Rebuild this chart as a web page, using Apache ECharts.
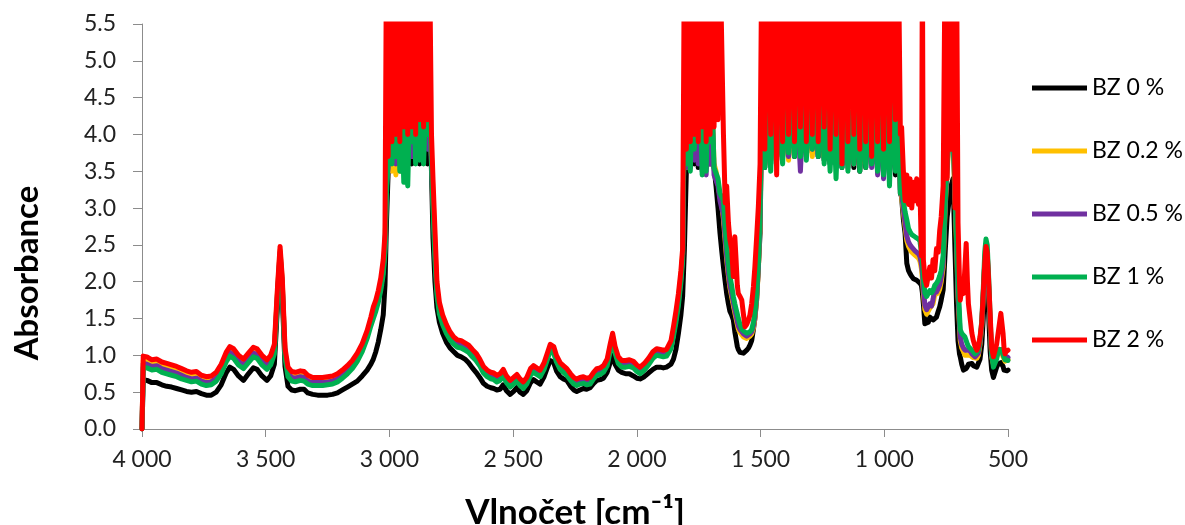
<!DOCTYPE html>
<html>
<head>
<meta charset="utf-8">
<script src="https://cdn.jsdelivr.net/npm/echarts@6/dist/echarts.min.js"></script>
<style>
html,body{margin:0;padding:0;background:#fff;}
#chart{width:1185px;height:525px;}
</style>
</head>
<body>
<div id="chart"></div>
<script>
// Wavenumbers (cm^-1), shared by all series
const wavenumbers = [
  // A
  4000,3995,3980,3960,3940,3920,3900,3880,3860,3840,
  3820,3800,3780,3760,3740,3720,3700,3680,3660,3645,
  3630,3610,3590,3570,3550,3535,3515,3495,3480,3465,
  3452,3442,3433,3422,3410,3395,3380,3360,3345,3330,
  3310,3290,3270,3250,3230,3210,3190,3170,3150,3130,
  3110,3090,3075,3065,3055,3045,3035,3025,3018,
  // B
  3012,3005,2998,2990,2982,2974,2966,2958,2950,2942,
  2934,2926,2918,2910,2902,2894,2886,2878,2870,2862,
  2854,2846,2838,2830,
  // C
  2824,2816,2808,2798,2785,2770,2755,2740,2725,2710,
  2695,2680,2665,2650,2635,2620,2605,2590,2578,2566,
  2553,2540,2527,2512,2498,2485,2472,2459,2445,2430,
  2418,2405,2391,2375,2360,2350,2344,2336,2325,2310,
  2297,2283,2268,2255,2243,2230,2216,2203,2189,2175,
  2162,2148,2135,2120,2108,2098,2088,2075,2061,2045,
  2030,2014,2000,1987,1970,1953,1935,1920,1905,1893,
  1880,1872,1862,1852,1842,1832,1822,1815,
  // D
  1808,1800,1792,1784,1776,1768,1760,1752,1744,1736,
  1728,1720,1712,1704,1696,1688,1680,1672,1664,1657,
  // E
  1650,1643,1637,1630,1624,1617,1610,1604,1599,1594,
  1590,1583,1576,1569,1563,1556,1549,1543,1536,1529,
  1523,1516,1509,1502,
  // F
  1495,1483,1471,1459,1447,1435,1423,1411,1399,1387,
  1375,1363,1351,1339,1327,1315,1303,1291,1279,1267,
  1255,1243,1231,1219,1207,1195,1183,1171,1159,1147,
  1135,1123,1111,1099,1087,1075,1063,1051,1039,1027,
  1015,1003,991,979,967,955,943,935,
  // G
  930,923,916,909,902,896,889,882,876,869,
  862,856,850,846,842,836,829,822,816,809,
  803,796,789,782,776,770,762,754,746,738,
  730,722,714,708,702,696,693,687,680,674,
  669,664,660,653,646,640,633,626,620,613,
  606,600,594,589,584,578,572,566,559,553,
  546,540,534,529,525,520,516,512,508,504,
  500
];

// BZ 0 %
const bz0 = [
  0,0.67,0.66,0.63,0.63,0.60,0.58,0.57,0.55,0.53,
  0.51,0.50,0.51,0.48,0.46,0.46,0.50,0.60,0.76,0.84,
  0.81,0.72,0.66,0.75,0.83,0.81,0.72,0.66,0.72,0.88,
  1.70,2.25,1.80,0.85,0.58,0.53,0.52,0.54,0.54,0.49,
  0.47,0.46,0.46,0.46,0.47,0.49,0.53,0.57,0.61,0.65,
  0.72,0.80,0.88,0.95,1.05,1.18,1.35,1.55,1.95,
  2.8,3.5,4.4,3.6,4.3,3.55,4.5,3.6,4.4,3.6,
  4.5,3.65,4.3,3.6,4.4,3.7,4.5,3.6,4.4,3.65,
  4.3,3.6,4.4,3.5,
  2.60,2.00,1.65,1.45,1.30,1.18,1.10,1.05,1.00,0.98,
  0.95,0.90,0.83,0.77,0.70,0.62,0.58,0.56,0.55,0.53,
  0.54,0.60,0.52,0.47,0.51,0.56,0.50,0.47,0.52,0.63,
  0.67,0.64,0.61,0.71,0.85,0.93,0.95,0.90,0.79,0.71,
  0.68,0.66,0.58,0.53,0.51,0.53,0.55,0.54,0.56,0.62,
  0.66,0.67,0.69,0.77,0.90,1.00,0.88,0.80,0.77,0.75,
  0.75,0.72,0.69,0.68,0.71,0.76,0.81,0.84,0.84,0.83,
  0.84,0.84,0.88,0.95,1.08,1.30,1.55,1.80,
  2.43,3.5,4.4,3.55,4.3,3.6,4.5,3.55,4.4,3.6,
  4.3,3.55,4.4,3.6,3.8,3.55,3.3,3.0,2.66,2.42,
  2.20,2.00,1.84,1.70,1.60,1.55,1.48,1.32,1.22,1.12,
  1.08,1.04,1.02,1.03,1.05,1.07,1.10,1.14,1.20,1.35,
  1.50,1.75,2.20,2.66,
  4.4,3.55,4.3,3.6,4.5,3.65,4.4,3.7,4.3,3.7,
  4.5,3.7,4.4,3.75,4.3,3.7,4.4,3.75,4.5,3.7,
  4.3,3.65,4.4,3.6,4.5,3.6,4.3,3.55,4.4,3.6,
  4.5,3.55,4.3,3.5,4.4,3.55,4.5,3.6,4.3,3.5,
  4.4,3.55,4.3,3.5,4.4,3.45,4.3,3.2,
  3.15,2.85,2.66,2.25,2.15,2.11,2.07,2.04,2.03,2.02,
  2.00,1.98,1.95,1.85,1.70,1.43,1.42,1.45,1.52,1.50,
  1.48,1.48,1.52,1.60,1.66,1.75,1.89,2.40,2.88,3.10,
  3.30,3.40,2.40,1.70,1.20,1.02,0.98,0.88,0.80,0.80,
  0.82,0.85,0.88,0.89,0.89,0.86,0.84,0.84,0.86,0.95,
  1.15,1.50,1.95,2.15,2.05,1.55,1.05,0.80,0.70,0.70,
  0.84,0.88,0.89,0.90,0.89,0.85,0.80,0.78,0.78,0.79,
  0.80
];

// BZ 0.2 %
const bz02 = [
  0,0.93,0.92,0.89,0.90,0.86,0.84,0.82,0.80,0.77,
  0.74,0.72,0.73,0.68,0.66,0.67,0.72,0.83,0.99,1.07,
  1.04,0.95,0.90,0.98,1.06,1.04,0.95,0.89,0.95,1.10,
  1.90,2.43,2.00,1.05,0.79,0.73,0.72,0.74,0.73,0.68,
  0.66,0.66,0.66,0.67,0.68,0.71,0.76,0.82,0.89,0.99,
  1.12,1.30,1.47,1.58,1.68,1.80,1.96,2.20,2.50,
  3.4,3.6,4.3,3.5,4.5,3.45,4.4,3.5,4.3,3.6,
  4.5,3.8,4.4,3.7,4.3,3.75,4.5,3.7,4.4,3.8,
  4.5,3.9,4.4,3.7,
  3.20,2.50,1.92,1.65,1.49,1.37,1.27,1.21,1.17,1.16,
  1.13,1.10,1.04,0.99,0.91,0.81,0.76,0.73,0.72,0.69,
  0.71,0.77,0.68,0.62,0.66,0.70,0.64,0.60,0.66,0.78,
  0.82,0.79,0.76,0.86,1.01,1.11,1.13,1.08,0.96,0.86,
  0.82,0.78,0.71,0.66,0.64,0.66,0.67,0.65,0.66,0.73,
  0.78,0.79,0.82,0.91,1.11,1.26,1.08,0.94,0.89,0.89,
  0.90,0.88,0.83,0.80,0.85,0.92,1.01,1.05,1.04,1.03,
  1.04,1.05,1.15,1.33,1.53,1.77,2.08,2.38,
  4.4,3.55,4.5,3.6,4.3,3.7,4.4,3.65,4.5,3.7,
  4.3,3.6,4.4,3.6,4.4,3.6,3.5,3.35,3.15,3.05,
  2.85,2.55,2.30,2.08,1.92,1.80,1.68,1.58,1.50,1.42,
  1.36,1.31,1.28,1.25,1.24,1.23,1.24,1.26,1.29,1.37,
  1.50,1.75,2.15,2.80,
  4.4,3.6,4.5,3.65,4.3,3.7,4.4,3.7,4.5,3.65,
  4.3,3.75,4.4,3.75,4.5,3.8,4.3,3.7,4.4,3.75,
  4.5,3.7,4.3,3.7,4.4,3.6,4.5,3.65,4.3,3.6,
  4.4,3.6,4.5,3.6,4.3,3.65,4.4,3.6,4.5,3.55,
  4.3,3.55,4.4,3.6,4.5,3.65,4.3,3.3,
  3.15,2.95,2.75,2.56,2.48,2.44,2.40,2.38,2.36,2.34,
  2.32,2.28,2.18,2.05,1.85,1.62,1.56,1.58,1.64,1.62,
  1.70,1.82,1.80,1.85,1.90,2.00,2.20,3.00,3.50,3.90,
  4.20,3.90,3.10,2.50,1.80,1.40,1.20,1.10,1.05,1.00,
  0.98,1.00,1.02,1.00,0.98,0.97,0.95,0.96,1.00,1.15,
  1.40,1.80,2.25,2.45,2.35,1.90,1.40,0.98,0.88,0.90,
  0.98,1.02,1.05,1.05,1.03,0.98,0.95,0.92,0.94,0.95,
  0.94
];

// BZ 0.5 %
const bz05 = [
  0,0.89,0.88,0.85,0.86,0.82,0.80,0.78,0.76,0.73,
  0.70,0.68,0.69,0.65,0.63,0.64,0.69,0.80,0.96,1.04,
  1.01,0.92,0.87,0.95,1.03,1.01,0.92,0.86,0.92,1.07,
  1.87,2.40,1.97,1.02,0.76,0.70,0.69,0.71,0.70,0.65,
  0.63,0.63,0.63,0.64,0.65,0.68,0.73,0.79,0.86,0.96,
  1.09,1.27,1.44,1.54,1.64,1.76,1.92,2.15,2.45,
  3.3,3.55,4.5,3.65,4.3,3.6,4.4,3.6,4.5,3.7,
  4.3,3.65,4.4,3.7,4.5,3.7,4.3,3.75,4.4,3.75,
  4.5,3.8,4.3,3.6,
  3.10,2.40,1.88,1.61,1.46,1.34,1.25,1.19,1.15,1.14,
  1.11,1.08,1.02,0.97,0.89,0.79,0.74,0.71,0.70,0.67,
  0.69,0.75,0.66,0.60,0.64,0.68,0.62,0.58,0.64,0.76,
  0.80,0.77,0.74,0.84,0.99,1.09,1.11,1.06,0.94,0.84,
  0.80,0.76,0.69,0.64,0.62,0.64,0.65,0.63,0.64,0.71,
  0.76,0.77,0.80,0.89,1.09,1.24,1.06,0.92,0.87,0.87,
  0.88,0.86,0.81,0.78,0.83,0.90,0.99,1.03,1.02,1.01,
  1.02,1.03,1.13,1.30,1.50,1.73,2.04,2.34,
  4.3,3.55,4.4,3.6,4.5,3.65,4.3,3.6,4.4,3.5,
  4.5,3.45,4.3,3.6,4.4,3.45,3.45,3.3,3.1,3.0,
  2.90,2.60,2.35,2.12,1.96,1.84,1.72,1.62,1.54,1.46,
  1.40,1.35,1.32,1.29,1.28,1.26,1.27,1.29,1.32,1.40,
  1.53,1.78,2.18,2.85,
  4.3,3.6,4.4,3.65,4.5,3.7,4.3,3.75,4.4,3.7,
  4.5,3.8,4.3,3.5,4.4,3.75,4.5,3.8,4.3,3.7,
  4.4,3.75,4.5,3.6,4.3,3.65,4.4,3.6,4.5,3.55,
  4.3,3.6,4.4,3.65,4.5,3.6,4.3,3.55,4.4,3.45,
  4.5,3.4,4.3,3.45,4.4,3.6,4.3,3.25,
  3.20,3.00,2.80,2.62,2.54,2.50,2.47,2.45,2.42,2.40,
  2.38,2.34,2.24,2.12,1.92,1.68,1.62,1.64,1.70,1.67,
  1.76,1.89,1.86,1.91,1.96,2.06,2.26,3.05,3.55,4.00,
  4.30,4.00,3.20,2.60,1.85,1.45,1.25,1.15,1.10,1.07,
  1.05,1.07,1.08,1.06,1.02,1.00,0.98,0.99,1.03,1.18,
  1.42,1.82,2.28,2.48,2.38,1.92,1.42,1.00,0.90,0.92,
  1.00,1.05,1.08,1.08,1.06,1.01,0.98,0.95,0.97,0.98,
  0.97
];

// BZ 1 %
const bz1 = [
  0,0.84,0.83,0.80,0.81,0.77,0.75,0.73,0.71,0.68,
  0.66,0.64,0.65,0.61,0.59,0.60,0.65,0.75,0.91,0.99,
  0.96,0.87,0.82,0.90,0.98,0.96,0.87,0.81,0.87,1.02,
  1.82,2.36,1.92,0.97,0.71,0.65,0.64,0.66,0.65,0.61,
  0.59,0.59,0.59,0.60,0.61,0.64,0.69,0.75,0.82,0.92,
  1.05,1.23,1.40,1.50,1.60,1.72,1.88,2.10,2.40,
  3.2,3.65,4.5,3.6,4.4,3.7,4.6,3.5,4.3,3.35,
  4.5,3.3,4.4,3.9,4.6,3.6,4.3,3.65,4.5,3.6,
  4.4,4.0,4.5,3.6,
  3.00,2.30,1.82,1.56,1.42,1.30,1.21,1.15,1.11,1.10,
  1.07,1.04,0.98,0.93,0.86,0.76,0.71,0.68,0.67,0.64,
  0.66,0.72,0.63,0.57,0.61,0.65,0.59,0.55,0.61,0.73,
  0.77,0.74,0.71,0.81,0.96,1.06,1.08,1.03,0.91,0.81,
  0.77,0.73,0.66,0.61,0.59,0.61,0.62,0.60,0.61,0.68,
  0.73,0.74,0.77,0.86,1.06,1.21,1.03,0.89,0.84,0.84,
  0.85,0.83,0.78,0.75,0.80,0.87,0.96,1.00,0.99,0.98,
  0.99,1.00,1.09,1.26,1.45,1.68,1.99,2.29,
  4.5,3.6,4.4,3.5,4.6,3.8,4.3,3.9,4.5,3.45,
  4.4,3.5,4.6,3.9,4.5,3.55,3.55,3.4,3.2,3.15,
  3.10,2.75,2.50,2.25,2.08,1.95,1.80,1.70,1.63,1.56,
  1.50,1.42,1.36,1.33,1.31,1.30,1.31,1.32,1.35,1.45,
  1.58,1.82,2.25,2.95,
  4.5,3.55,4.4,3.5,4.6,3.7,4.3,3.6,4.5,3.75,
  4.4,3.7,4.6,3.7,4.3,3.65,4.5,3.8,4.4,3.7,
  4.6,3.6,4.3,3.5,4.5,3.4,4.4,3.55,4.6,3.5,
  4.3,3.6,4.5,3.5,4.4,3.55,4.6,3.6,4.3,3.5,
  4.5,3.45,4.4,3.3,4.6,3.5,4.3,3.2,
  3.30,3.10,2.95,2.84,2.72,2.68,2.64,2.62,2.61,2.60,
  2.58,2.55,2.40,2.30,2.05,1.85,1.80,1.82,1.88,1.85,
  1.88,1.95,1.98,2.02,2.08,2.15,2.35,3.10,3.60,4.00,
  4.30,4.00,3.20,2.60,2.00,1.55,1.35,1.30,1.28,1.25,
  1.20,1.15,1.12,1.10,1.07,1.05,1.02,1.03,1.07,1.22,
  1.47,1.90,2.40,2.58,2.50,2.05,1.50,1.02,0.84,0.86,
  0.95,1.05,1.08,1.10,1.08,1.02,0.97,0.94,0.95,0.96,
  0.93
];

// BZ 2 %
const bz2 = [
  0,0.99,0.98,0.94,0.95,0.91,0.89,0.87,0.85,0.82,
  0.79,0.77,0.78,0.73,0.71,0.72,0.77,0.88,1.04,1.12,
  1.09,1.00,0.95,1.03,1.11,1.09,1.00,0.94,1.00,1.15,
  1.95,2.48,2.05,1.10,0.84,0.78,0.77,0.79,0.78,0.73,
  0.70,0.70,0.70,0.71,0.72,0.75,0.80,0.86,0.93,1.03,
  1.16,1.34,1.52,1.66,1.75,1.88,2.05,2.30,2.65,
  6.5,3.7,6.5,3.9,6.5,4.0,6.5,3.9,6.5,4.1,
  6.5,4.0,6.5,4.1,6.5,4.0,6.5,4.2,6.5,4.1,
  6.5,4.2,6.5,4.0,
  3.40,2.70,2.00,1.72,1.55,1.42,1.32,1.25,1.21,1.20,
  1.17,1.14,1.08,1.03,0.95,0.85,0.80,0.77,0.76,0.73,
  0.75,0.81,0.72,0.66,0.70,0.74,0.68,0.64,0.70,0.82,
  0.86,0.83,0.80,0.90,1.05,1.15,1.17,1.12,1.00,0.90,
  0.86,0.82,0.75,0.70,0.68,0.70,0.71,0.69,0.70,0.77,
  0.82,0.83,0.86,0.95,1.15,1.30,1.12,0.98,0.93,0.93,
  0.94,0.92,0.87,0.84,0.89,0.96,1.05,1.09,1.08,1.07,
  1.08,1.09,1.20,1.39,1.60,1.84,2.15,2.45,
  6.5,3.8,6.5,3.9,6.5,4.0,6.5,3.9,6.5,4.1,
  6.5,3.9,6.5,4.0,6.5,4.1,6.5,4.2,6.5,6.5,
  4.00,3.07,3.30,2.80,2.57,2.45,2.07,2.61,2.30,1.95,
  1.84,1.80,1.75,1.55,1.39,1.42,1.48,1.55,1.70,1.93,
  2.20,2.60,3.02,3.60,
  6.5,3.8,6.5,4.0,6.5,3.45,6.5,3.9,6.5,4.0,
  6.5,3.9,6.5,4.1,6.5,3.9,6.5,4.0,6.5,3.9,
  6.5,4.1,6.5,3.8,6.5,4.0,6.5,3.6,6.5,3.9,
  6.5,4.0,6.5,3.8,6.5,3.9,6.5,3.7,6.5,3.9,
  6.5,3.8,6.5,3.9,6.5,4.2,6.5,4.0,
  4.10,3.52,3.10,3.45,3.05,3.40,3.00,3.35,3.10,3.40,
  3.05,3.30,2.35,6.50,2.30,2.05,1.95,1.93,2.20,2.05,
  2.30,2.15,2.45,2.40,2.70,2.88,3.30,6.50,3.40,6.50,
  3.80,6.50,3.00,6.50,2.80,2.00,1.75,1.90,1.84,2.20,
  2.52,2.00,1.70,1.50,1.30,1.20,1.12,1.07,1.12,1.25,
  1.45,1.85,2.25,2.48,2.40,2.00,1.55,1.10,0.98,1.00,
  1.15,1.30,1.45,1.57,1.55,1.30,1.10,1.02,1.05,1.07,
  1.07
];

const seriesNames = ['BZ 0 %', 'BZ 0.2 %', 'BZ 0.5 %', 'BZ 1 %', 'BZ 2 %'];
const seriesValues = [bz0, bz02, bz05, bz1, bz2];
const seriesColors = ['#000000', '#FFC000', '#7030A0', '#00B050', '#FF0000'];

const chart = echarts.init(document.getElementById('chart'), null, {renderer: 'canvas'});

const series = seriesNames.map((name, k) => ({
  name: name,
  type: 'line',
  data: wavenumbers.map((w, i) => [w, seriesValues[k][i]]),
  showSymbol: false,
  symbol: 'none',
  clip: true,
  lineStyle: {color: seriesColors[k], width: 5, join: 'round', cap: 'round'},
  itemStyle: {color: seriesColors[k]},
  emphasis: {disabled: true},
  z: 2 + k
}));

function fmtX(v) {
  if (v >= 1000) {
    const s = String(v);
    return s.slice(0, s.length - 3) + ' ' + s.slice(s.length - 3);
  }
  return String(v);
}

const FONT = 'Lato, "Open Sans", sans-serif';

chart.setOption({
  animation: false,
  backgroundColor: '#ffffff',
  textStyle: {fontFamily: FONT},
  grid: {left: 142, right: 177, top: 24, bottom: 96, containLabel: false, outerBoundsMode: 'none'},
  xAxis: {
    type: 'value', min: 500, max: 4000, interval: 500, inverse: true,
    axisLine: {show: true, lineStyle: {color: '#8c8c8c', width: 1}},
    axisTick: {show: true, length: 8, lineStyle: {color: '#8c8c8c', width: 1}},
    axisLabel: {color: '#222', fontSize: 23, margin: 19, fontFamily: FONT, formatter: fmtX},
    splitLine: {show: false},
    name: 'Vlnočet [cm⁻¹]', nameLocation: 'middle', nameGap: 66,
    nameTextStyle: {fontSize: 35, fontWeight: 'bold', color: '#000', fontFamily: FONT}
  },
  yAxis: {
    type: 'value', min: 0, max: 5.5, interval: 0.5,
    axisLine: {show: true, lineStyle: {color: '#8c8c8c', width: 1}},
    axisTick: {show: true, length: 9, lineStyle: {color: '#8c8c8c', width: 1}},
    axisLabel: {color: '#222', fontSize: 23, margin: 26, fontFamily: FONT, formatter: v => v.toFixed(1)},
    splitLine: {show: false}
  },
  graphic: [{
    type: 'text',
    x: 27, y: 273,
    rotation: Math.PI / 2,
    style: {
      text: 'Absorbance',
      font: 'bold 33px ' + FONT,
      fill: '#000',
      align: 'center',
      verticalAlign: 'middle'
    }
  }],
  legend: {
    orient: 'vertical', left: 1032, top: 76, padding: 0,
    itemWidth: 55, itemHeight: 5, itemGap: 39,
    icon: 'rect',
    data: seriesNames,
    textStyle: {fontSize: 23, color: '#000', lineHeight: 24, fontFamily: FONT},
    selectedMode: false
  },
  series: series
});
</script>
</body>
</html>
